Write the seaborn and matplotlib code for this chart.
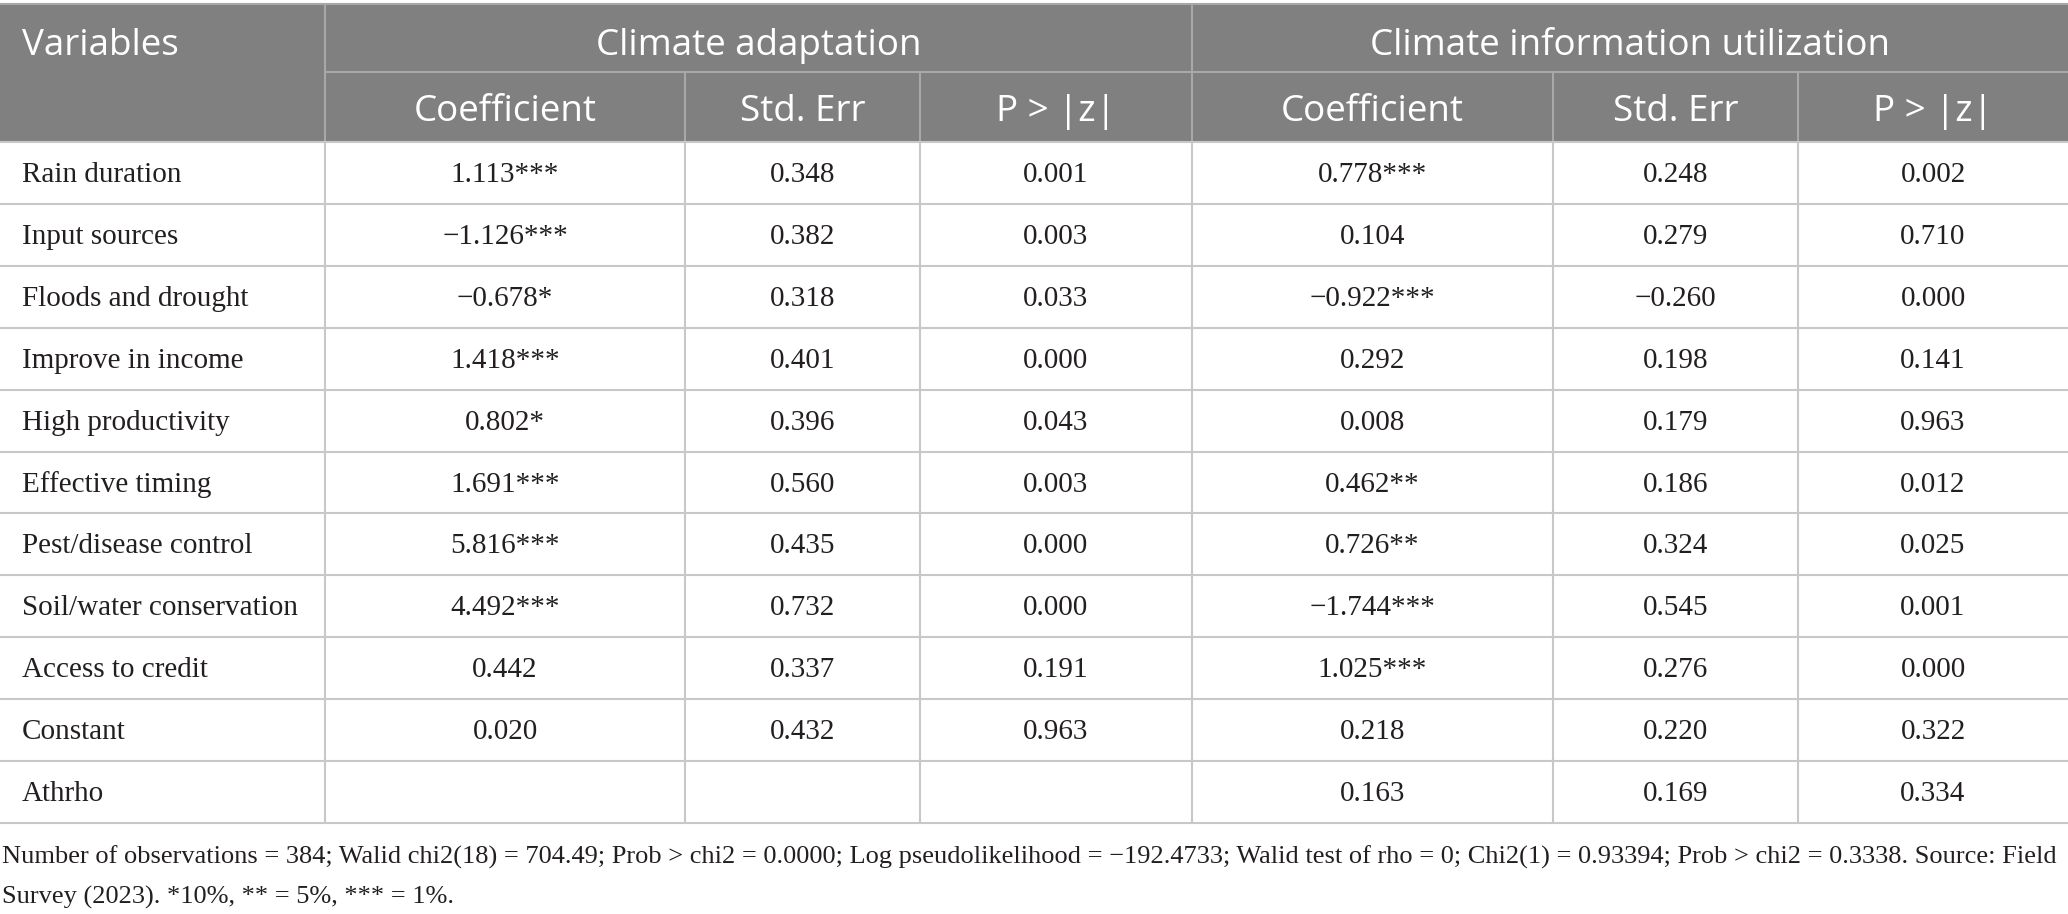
import numpy as np
import pandas as pd
import matplotlib.pyplot as plt
import seaborn as sns

sns.set_theme(style="white")
plt.rcParams['font.family'] = ['Liberation Serif', 'DejaVu Serif']

variables = ["Rain duration", "Input sources", "Floods and drought", "Improve in income",
             "High productivity", "Effective timing", "Pest/disease control",
             "Soil/water conservation", "Access to credit", "Constant", "Athrho"]

adapt_coef = [1.113, -1.126, -0.678, 1.418, 0.802, 1.691, 5.816, 4.492, 0.442, 0.020, None]
adapt_stars = ["***", "***", "*", "***", "*", "***", "***", "***", "", "", ""]
adapt_se = [0.348, 0.382, 0.318, 0.401, 0.396, 0.560, 0.435, 0.732, 0.337, 0.432, None]
adapt_p = [0.001, 0.003, 0.033, 0.000, 0.043, 0.003, 0.000, 0.000, 0.191, 0.963, None]

info_coef = [0.778, 0.104, -0.922, 0.292, 0.008, 0.462, 0.726, -1.744, 1.025, 0.218, 0.163]
info_stars = ["***", "", "***", "", "", "**", "**", "***", "***", "", ""]
info_se = [0.248, 0.279, -0.260, 0.198, 0.179, 0.186, 0.324, 0.545, 0.276, 0.220, 0.169]
info_p = [0.002, 0.710, 0.000, 0.141, 0.963, 0.012, 0.025, 0.001, 0.000, 0.322, 0.334]

groups = ["Climate adaptation", "Climate information utilization"]
sub_headers = ["Coefficient", "Std. Err", "P > |z|"]

footnote = ["Number of observations = 384; Walid chi2(18) = 704.49; Prob > chi2 = 0.0000; "
            "Log pseudolikelihood = \u2212192.4733; Walid test of rho = 0; Chi2(1) = 0.93394; "
            "Prob > chi2 = 0.3338. Source: Field",
            "Survey (2023). *10%, ** = 5%, *** = 1%."]


def fmt(v, stars=""):
    if v is None:
        return ""
    return f"{v:.3f}".replace("-", "\u2212") + stars


df = pd.DataFrame({
    "Variables": variables,
    "a_coef": [fmt(v, s) for v, s in zip(adapt_coef, adapt_stars)],
    "a_se": [fmt(v) for v in adapt_se],
    "a_p": [fmt(v) for v in adapt_p],
    "i_coef": [fmt(v, s) for v, s in zip(info_coef, info_stars)],
    "i_se": [fmt(v) for v in info_se],
    "i_p": [fmt(v) for v in info_p],
})

# layout (pixels)
W, H = 2068, 914
col_x = [0, 325, 685, 920, 1192, 1553, 1798, 2068]
top, mid, head_bot, bot = 4, 72, 142, 823
row_h = (bot - head_bot) / len(df)

header_gray = "#808080"
head_line = "#a8a8a8"
grid_line = "#c8c8c8"
text_col = "#231f20"
head_font = ["Open Sans", "DejaVu Sans"]

fig = plt.figure(figsize=(W / 100, H / 100), dpi=100)
ax = fig.add_axes([0, 0, 1, 1])
ax.set_xlim(0, W)
ax.set_ylim(H, 0)
ax.axis("off")

# header band
ax.add_patch(plt.Rectangle((0, top), W, head_bot - top, color=header_gray, lw=0))
ax.hlines(top, 0, W, color=head_line, lw=1.5)
ax.hlines(mid, col_x[1], W, color=head_line, lw=1.5)
ax.vlines([col_x[1], col_x[4]], top, head_bot, color=head_line, lw=1.5)
ax.vlines([col_x[2], col_x[3], col_x[5], col_x[6]], mid, head_bot, color=head_line, lw=1.5)

# body grid
ys = head_bot + row_h * np.arange(len(df) + 1)
ax.hlines(ys, 0, W, color=grid_line, lw=1.5)
ax.vlines(col_x[1:-1], head_bot, bot, color=grid_line, lw=1.5)

# header text
hs = 26.5
ax.text(22, (top + mid) / 2 + 8, "Variables", color="white", fontsize=hs, family=head_font,
        ha="left", va="center")
for g, (c0, c1) in zip(groups, [(col_x[1], col_x[4]), (col_x[4], col_x[7])]):
    ax.text((c0 + c1) / 2, (top + mid) / 2 + 8, g, color="white", fontsize=hs,
            family=head_font, ha="center", va="center")
for j in range(6):
    ax.text((col_x[j + 1] + col_x[j + 2]) / 2, (mid + head_bot) / 2 + 5, sub_headers[j % 3],
            color="white", fontsize=hs, family=head_font, ha="center", va="center")

# body text
bs = 21
cols = ["a_coef", "a_se", "a_p", "i_coef", "i_se", "i_p"]
for i, row in df.iterrows():
    yc = head_bot + row_h * (i + 0.5) + 2
    ax.text(22, yc, row["Variables"], color=text_col, fontsize=bs, ha="left", va="center")
    for j, c in enumerate(cols):
        ax.text((col_x[j + 1] + col_x[j + 2]) / 2, yc, row[c], color=text_col, fontsize=bs,
                ha="center", va="center")

# footnote
for k, line in enumerate(footnote):
    ax.text(2, 857 + 40 * k, line, color=text_col, fontsize=19, ha="left", va="center")

fig.savefig("out.png", dpi=100)
